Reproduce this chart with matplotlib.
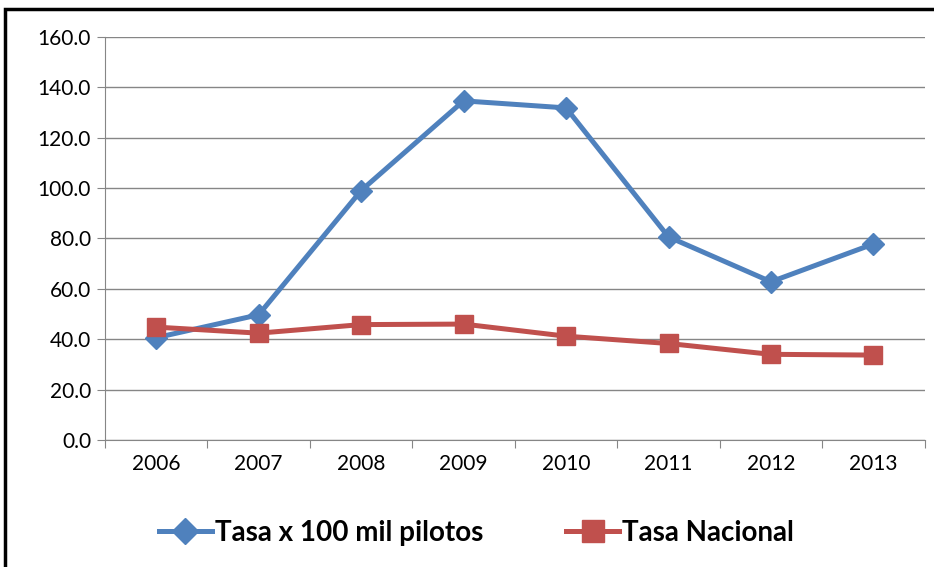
import matplotlib
matplotlib.use("Agg")
import matplotlib.pyplot as plt
from matplotlib.patches import Rectangle
import numpy as np

# Data
years = ["2006", "2007", "2008", "2009", "2010", "2011", "2012", "2013"]
tasa_pilotos = [40.6, 49.7, 99.0, 134.6, 131.8, 80.6, 62.8, 77.8]
tasa_nacional = [44.8, 42.4, 45.8, 46.0, 41.2, 38.3, 34.0, 33.7]

plt.rcParams['font.family'] = ['Lato', 'DejaVu Sans']

fig = plt.figure(figsize=(9.34, 5.67), dpi=100)
ax = fig.add_axes([0.1124, 0.224, 0.8776, 0.711])

x = np.arange(len(years))
ax.plot(x, tasa_pilotos, color='#4F81BD', lw=3.6, marker='D', ms=11,
        label='Tasa x 100 mil pilotos', zorder=3)
ax.plot(x, tasa_nacional, color='#C0504D', lw=3.6, marker='s', ms=13,
        label='Tasa Nacional', zorder=3)

ax.set_ylim(0, 160)
ax.set_yticks(np.arange(0, 161, 20))
ax.set_yticklabels([f"{v:.1f}" for v in range(0, 161, 20)], fontsize=15)
ax.set_xlim(-0.5, len(years) - 0.5)
ax.set_xticks(np.arange(-0.5, len(years), 1))
ax.set_xticklabels([])
ax.set_xticks(x, minor=True)
ax.set_xticklabels(years, minor=True, fontsize=15)
ax.tick_params(axis='x', which='minor', length=0, pad=10)
ax.tick_params(axis='x', which='major', length=6, color='#868686')
ax.tick_params(axis='y', length=6, color='#868686', pad=4)

ax.grid(axis='y', color='#868686', lw=1)
ax.set_axisbelow(True)
for s in ['top', 'right']:
    ax.spines[s].set_visible(False)
for s in ['left', 'bottom']:
    ax.spines[s].set_color('#868686')

leg = fig.legend(loc='center', bbox_to_anchor=(0.51, 0.06), ncol=2, frameon=False,
                 prop={'weight': 'bold', 'size': 20}, handlelength=1.9,
                 columnspacing=3.0, handletextpad=0.1, markerscale=1.2)

# chart border
fig.patches.append(Rectangle((0.005, -0.02), 1.02, 1.004, transform=fig.transFigure,
                             fill=False, edgecolor='black', lw=2.5))

fig.savefig('out.png', dpi=100)
